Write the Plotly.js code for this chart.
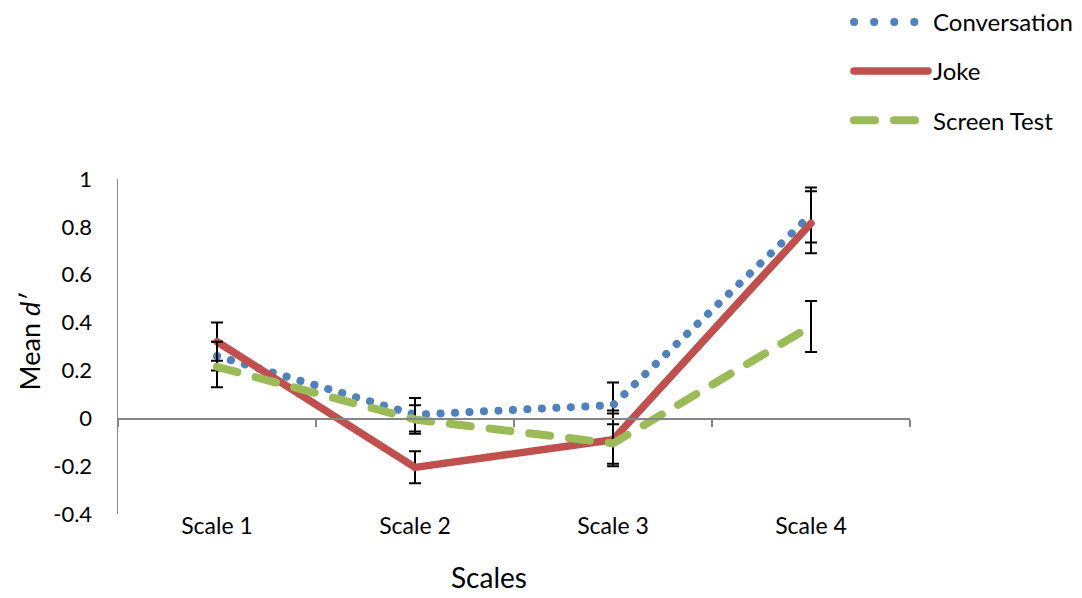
<!DOCTYPE html>
<html>
<head>
<meta charset="utf-8">
<script src="https://cdn.plot.ly/plotly-3.0.1.min.js"></script>
<style>html,body{margin:0;padding:0;background:#fff;}#chart{width:1082px;height:598px;}</style>
</head>
<body>
<div id="chart"></div>
<script>
var categories = ['Scale 1', 'Scale 2', 'Scale 3', 'Scale 4'];
var conversation = [0.26, 0.015, 0.055, 0.85];
var conversationErrPlus = [0.06, 0.07, 0.095, 0.115];
var conversationErrMinus = [0.06, 0.07, 0.08, 0.115];
var joke = [0.32, -0.205, -0.09, 0.815];
var jokeErrPlus = [0.08, 0.067, 0.11, 0.134];
var jokeErrMinus = [0.08, 0.067, 0.11, 0.125];
var screenTest = [0.215, -0.005, -0.105, 0.385];
var screenErrPlus = [0.105, 0.06, 0.138, 0.105];
var screenErrMinus = [0.085, 0.06, 0.085, 0.108];
var yTicks = [-0.4, -0.2, 0, 0.2, 0.4, 0.6, 0.8, 1];
var yTickText = ['-0.4', '-0.2', '0', '0.2', '0.4', '0.6', '0.8', '1'];

function errBar(plus, minus) {
  return {type: 'data', symmetric: false, array: plus, arrayminus: minus,
          color: '#000000', thickness: 2, width: 6, visible: true};
}

var traces = [
  {x: categories, y: conversation, name: 'Conversation', mode: 'lines', legendgroup: 'a',
   line: {color: '#4F81BD', width: 8, dash: '0.1px,14.4px'},
   error_y: errBar(conversationErrPlus, conversationErrMinus)},
  {x: categories, y: joke, name: 'Joke', mode: 'lines', legendgroup: 'b',
   line: {color: '#C0504D', width: 7.5},
   error_y: errBar(jokeErrPlus, jokeErrMinus)},
  {x: categories, y: screenTest, name: 'Screen Test', mode: 'lines', legendgroup: 'c',
   xaxis: 'x2', yaxis: 'y',
   line: {color: '#9BBB59', width: 8, dash: '21px,19px'},
   error_y: errBar(screenErrPlus, screenErrMinus)}
];

var layout = {
  width: 1082, height: 598,
  margin: {l: 118, r: 172, t: 179, b: 84, autoexpand: false},
  paper_bgcolor: '#ffffff', plot_bgcolor: '#ffffff',
  font: {family: 'Lato, "Open Sans", sans-serif', color: '#000000'},
  showlegend: true,
  legend: {x: 0.923, xanchor: 'left', y: 1.535, yanchor: 'top', font: {size: 24},
           tracegroupgap: 15, itemwidth: 74, bgcolor: 'rgba(0,0,0,0)'},
  xaxis: {type: 'category', range: [-0.5, 3.5], showline: false, showgrid: false,
          zeroline: false, ticks: '', tickfont: {size: 23}, ticklabelstandoff: -4, fixedrange: true},
  xaxis2: {type: 'category', overlaying: 'x', anchor: 'free', position: 0.2857, range: [-0.5, 3.5],
           showline: true, linecolor: '#868686', linewidth: 1.5, showgrid: false, zeroline: false,
           ticks: 'outside', ticklen: 7, tickcolor: '#868686', tickwidth: 1.5,
           tickson: 'boundaries', showticklabels: false, fixedrange: true},
  yaxis: {range: [-0.4, 1], tickvals: yTicks, ticktext: yTickText, showgrid: false,
          zeroline: true, zerolinecolor: '#868686', zerolinewidth: 1.5,
          showline: true, linecolor: '#868686', linewidth: 1.5, ticks: '',
          tickfont: {size: 22}, ticklabelstandoff: 20, fixedrange: true},
  annotations: [
    {text: 'Scales', xref: 'paper', yref: 'paper', x: 0.468, y: -0.188,
     showarrow: false, font: {size: 28}, xanchor: 'center', yanchor: 'middle'},
    {text: 'Mean <i>d\u2032</i>', xref: 'paper', yref: 'paper', x: -0.112, y: 0.516,
     textangle: -90, showarrow: false, font: {size: 27}, xanchor: 'center', yanchor: 'middle'}
  ]
};

Plotly.newPlot('chart', traces, layout, {staticPlot: true}).then(function () {
  document.querySelectorAll('.scatterlayer path.js-line, .legendlines path').forEach(function (p) {
    p.style.strokeLinecap = 'round';
    p.style.strokeLinejoin = 'round';
  });
  var legendLines = document.querySelectorAll('.legend .traces .legendlines path');
  if (legendLines.length) legendLines[0].style.strokeDasharray = '0.1px,20px';
});
</script>
</body>
</html>
